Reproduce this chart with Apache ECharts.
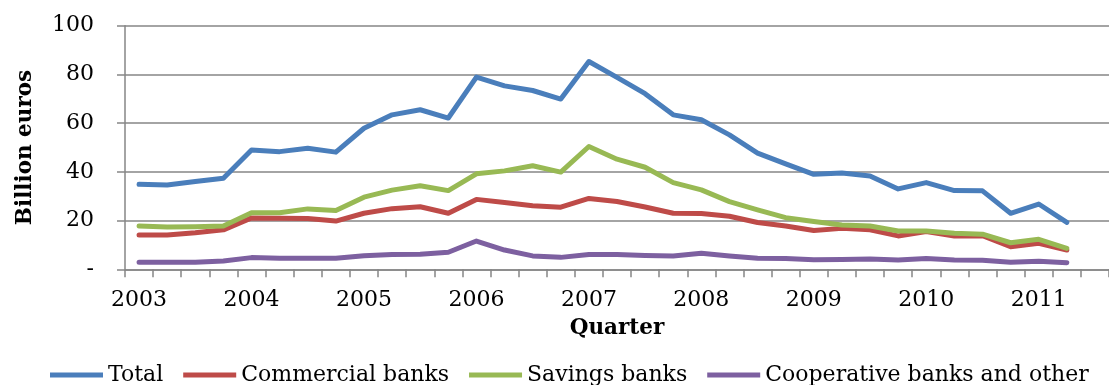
<!DOCTYPE html>
<html>
<head>
<meta charset="utf-8">
<script src="https://cdn.jsdelivr.net/npm/echarts@6/dist/echarts.min.js"></script>
<style>
html,body{margin:0;padding:0;background:#fff;}
#chart{width:1109px;height:385px;}
</style>
</head>
<body>
<div id="chart"></div>
<script>
// Quarterly, 2003 Q1 .. 2011 Q2 (plus one empty trailing slot as in the original plot area)
const years = ['2003','2004','2005','2006','2007','2008','2009','2010','2011'];
const quarters = ['Q1','Q2','Q3','Q4'];
const categories = [];
years.forEach(y => quarters.forEach(q => categories.push(y + ' ' + q)));
const nPoints = 34;
const axisCategories = categories.slice(0, nPoints + 1);

const total = [34.9,34.6,36.0,37.4,49.0,48.3,49.7,48.1,57.9,63.4,65.5,62.1,78.9,75.3,73.4,69.9,85.3,78.8,72.1,63.4,61.4,55.2,47.7,43.3,39.0,39.5,38.3,33.0,35.6,32.3,32.2,23.0,26.8,19.3];
const commercial = [14.1,14.1,15.0,16.2,21.1,21.0,20.9,19.8,23.0,24.9,25.7,23.0,28.7,27.4,26.1,25.5,29.1,27.8,25.6,23.0,22.9,21.8,19.2,17.8,15.9,16.8,16.2,13.7,15.5,13.7,13.8,9.3,10.7,7.9];
const savings = [17.8,17.4,17.5,17.8,23.2,23.2,24.8,24.1,29.6,32.5,34.3,32.3,39.2,40.4,42.5,39.9,50.4,45.2,41.9,35.6,32.6,27.8,24.4,21.2,19.6,18.2,17.8,15.7,15.7,14.8,14.4,10.9,12.3,8.6];
const cooperative = [2.9,2.9,2.9,3.4,4.8,4.5,4.5,4.5,5.6,6.1,6.2,7.0,11.6,7.9,5.5,4.9,6.1,6.1,5.7,5.5,6.6,5.5,4.5,4.4,3.9,4.0,4.2,3.8,4.4,3.8,3.7,2.9,3.3,2.7];

const seriesNames = ['Total','Commercial banks','Savings banks','Cooperative banks and other'];
const seriesData = [total, commercial, savings, cooperative];
const colors = ['#4A7EBB','#BE4B48','#98B954','#7D60A0'];
const yTicks = [0,20,40,60,80,100];

const FONT = 'DejaVu Serif';
const chart = echarts.init(document.getElementById('chart'), null, {renderer:'canvas'});
chart.setOption({
  animation:false,
  color:colors,
  textStyle:{fontFamily:FONT,color:'#000'},
  grid:{left:125, top:25.7, right:-8.3, bottom:115.7, containLabel:false},
  legend:{
    left:45, top:359, icon:'rect', itemWidth:53, itemHeight:5, itemGap:20,
    textStyle:{fontFamily:FONT,fontSize:22,color:'#000',padding:[0,0,0,0]},
    data:seriesNames
  },
  xAxis:{
    type:'category', data:axisCategories, boundaryGap:true,
    name:'Quarter', nameLocation:'middle', nameGap:48,
    nameTextStyle:{fontFamily:FONT,fontSize:21.5,fontWeight:'bold',color:'#000'},
    axisLine:{show:true,lineStyle:{color:'#868686',width:1.5}},
    axisTick:{show:true,interval:0,length:8,lineStyle:{color:'#868686',width:1.5}},
    axisLabel:{interval:3,margin:20,fontFamily:FONT,fontSize:22,color:'#000',
      formatter:v=>v.split(' ')[0]},
    splitLine:{show:false}
  },
  yAxis:{
    type:'value', min:yTicks[0], max:yTicks[yTicks.length-1], interval:20,
    name:'Billion euros', nameLocation:'middle', nameGap:89, nameRotate:90,
    nameTextStyle:{fontFamily:FONT,fontSize:21.5,fontWeight:'bold',color:'#000'},
    axisLine:{show:true,lineStyle:{color:'#868686',width:1.5}},
    axisTick:{show:true,inside:false,length:8,lineStyle:{color:'#868686',width:1.5}},
    axisLabel:{margin:31,fontFamily:FONT,fontSize:22,color:'#000',
      formatter:v=>v===0?'-':String(v)},
    splitLine:{show:true,lineStyle:{color:'#868686',width:1.5}}
  },
  series:seriesNames.map((n,i)=>({
    name:n, type:'line', data:seriesData[i], symbol:'none', showSymbol:false,
    lineStyle:{width:5,color:colors[i],join:'round',cap:'round'},
    itemStyle:{color:colors[i]}
  }))
});
</script>
</body>
</html>
